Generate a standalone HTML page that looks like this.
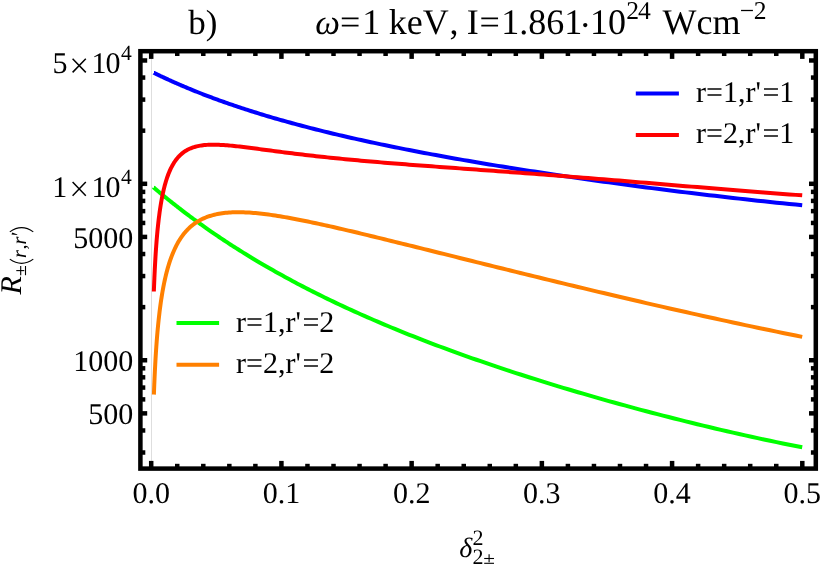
<!DOCTYPE html>
<html><head><meta charset="utf-8"><title>plot</title>
<style>
html,body{margin:0;padding:0;background:#fff;}
svg{display:block;will-change:transform;}
text{text-rendering:geometricPrecision;font-family:"Liberation Serif",serif;fill:#000;}
</style></head>
<body>
<svg width="822" height="566" viewBox="0 0 822 566">
<rect x="0" y="0" width="822" height="566" fill="#fff"/>
<line x1="151.5" y1="51.2" x2="151.5" y2="468.6" stroke="#dedede" stroke-width="1"/>
<g fill="none" stroke-width="4" stroke-linejoin="round" stroke-linecap="butt">
<path d="M154.00,72.88 L154.00,72.88 L154.00,72.88 L154.01,72.89 L154.01,72.89 L154.02,72.89 L154.04,72.90 L154.05,72.91 L154.08,72.92 L154.10,72.93 L154.14,72.95 L154.18,72.97 L154.22,72.99 L154.27,73.02 L154.33,73.04 L154.39,73.08 L154.47,73.11 L154.54,73.15 L154.63,73.19 L154.73,73.24 L154.83,73.29 L154.94,73.34 L155.07,73.40 L155.20,73.47 L155.34,73.53 L155.49,73.61 L155.64,73.68 L155.81,73.77 L155.99,73.85 L156.18,73.95 L156.39,74.04 L156.60,74.15 L156.82,74.25 L157.06,74.37 L157.30,74.49 L157.56,74.61 L157.83,74.74 L158.12,74.88 L158.41,75.02 L158.72,75.17 L159.04,75.32 L159.37,75.48 L159.72,75.64 L160.08,75.82 L160.46,75.99 L160.85,76.18 L161.25,76.37 L161.67,76.56 L162.10,76.77 L162.54,76.98 L163.00,77.19 L163.48,77.41 L163.97,77.64 L164.48,77.88 L165.00,78.12 L165.54,78.37 L166.09,78.63 L166.66,78.89 L167.24,79.16 L167.85,79.43 L168.47,79.71 L169.10,80.00 L169.75,80.30 L170.42,80.60 L171.11,80.91 L171.81,81.23 L172.53,81.55 L173.27,81.88 L174.03,82.21 L174.80,82.56 L175.60,82.91 L176.41,83.26 L177.24,83.63 L178.09,84.00 L178.95,84.37 L179.84,84.76 L180.75,85.15 L181.67,85.54 L182.61,85.95 L183.58,86.36 L184.56,86.77 L185.56,87.19 L186.59,87.62 L187.63,88.06 L188.69,88.50 L189.78,88.95 L190.88,89.40 L192.01,89.86 L193.15,90.33 L194.32,90.80 L195.51,91.28 L196.72,91.76 L197.95,92.25 L199.20,92.75 L200.48,93.25 L201.78,93.76 L203.09,94.27 L204.44,94.79 L205.80,95.31 L207.18,95.84 L208.59,96.37 L210.02,96.91 L211.48,97.46 L212.95,98.01 L214.45,98.56 L215.98,99.12 L217.52,99.69 L219.09,100.26 L220.69,100.83 L222.30,101.41 L223.94,102.00 L225.61,102.58 L227.30,103.18 L229.01,103.77 L230.75,104.37 L232.51,104.98 L234.30,105.59 L236.11,106.20 L237.95,106.82 L239.81,107.44 L241.70,108.06 L243.61,108.69 L245.55,109.32 L247.52,109.96 L249.50,110.59 L251.52,111.24 L253.56,111.88 L255.63,112.53 L257.72,113.18 L259.84,113.83 L261.99,114.49 L264.16,115.15 L266.36,115.81 L268.59,116.47 L270.84,117.14 L273.12,117.81 L275.43,118.48 L277.77,119.15 L280.13,119.83 L282.52,120.50 L284.94,121.18 L287.38,121.87 L289.86,122.55 L292.36,123.24 L294.89,123.92 L297.45,124.61 L300.03,125.30 L302.65,125.99 L305.29,126.69 L307.96,127.38 L310.66,128.08 L313.39,128.77 L316.15,129.47 L318.94,130.17 L321.76,130.87 L324.61,131.58 L327.48,132.28 L330.39,132.98 L333.32,133.69 L336.29,134.39 L339.29,135.10 L342.31,135.81 L345.37,136.51 L348.45,137.22 L351.57,137.93 L354.72,138.64 L357.90,139.35 L361.11,140.06 L364.35,140.77 L367.62,141.49 L370.92,142.20 L374.25,142.91 L377.62,143.63 L381.01,144.34 L384.44,145.05 L387.90,145.77 L391.39,146.48 L394.91,147.20 L398.47,147.91 L402.05,148.63 L405.67,149.34 L409.33,150.06 L413.01,150.77 L416.73,151.49 L420.47,152.21 L424.26,152.92 L428.07,153.64 L431.92,154.36 L435.80,155.07 L439.71,155.79 L443.66,156.51 L447.64,157.23 L451.65,157.94 L455.70,158.66 L459.78,159.38 L463.90,160.10 L468.05,160.82 L472.23,161.53 L476.45,162.25 L480.70,162.97 L484.98,163.69 L489.30,164.41 L493.66,165.13 L498.05,165.85 L502.47,166.57 L506.93,167.28 L511.42,168.00 L515.95,168.72 L520.52,169.44 L525.12,170.16 L529.75,170.88 L534.42,171.60 L539.13,172.32 L543.87,173.04 L548.64,173.76 L553.46,174.48 L558.31,175.20 L563.19,175.92 L568.11,176.64 L573.07,177.36 L578.06,178.08 L583.09,178.80 L588.16,179.52 L593.26,180.24 L598.40,180.96 L603.58,181.67 L608.79,182.39 L614.04,183.11 L619.33,183.83 L624.65,184.54 L630.02,185.26 L635.42,185.97 L640.85,186.69 L646.33,187.40 L651.84,188.12 L657.39,188.83 L662.98,189.54 L668.61,190.25 L674.27,190.95 L679.97,191.66 L685.71,192.37 L691.49,193.07 L697.31,193.77 L703.17,194.47 L709.06,195.17 L715.00,195.86 L720.97,196.56 L726.98,197.25 L733.03,197.93 L739.12,198.62 L745.25,199.30 L751.42,199.98 L757.63,200.65 L763.88,201.32 L770.17,201.99 L776.49,202.65 L782.86,203.31 L789.27,203.96 L795.71,204.61 L802.20,205.25" stroke="#0000ff"/>
<path d="M154.00,187.78 L154.00,187.78 L154.00,187.78 L154.01,187.78 L154.01,187.79 L154.02,187.80 L154.04,187.81 L154.05,187.82 L154.08,187.84 L154.10,187.87 L154.14,187.90 L154.18,187.93 L154.22,187.97 L154.27,188.01 L154.33,188.06 L154.39,188.11 L154.47,188.17 L154.54,188.24 L154.63,188.32 L154.73,188.40 L154.83,188.48 L154.94,188.58 L155.07,188.68 L155.20,188.79 L155.34,188.91 L155.49,189.04 L155.64,189.17 L155.81,189.31 L155.99,189.47 L156.18,189.63 L156.39,189.80 L156.60,189.97 L156.82,190.16 L157.06,190.36 L157.30,190.57 L157.56,190.78 L157.83,191.01 L158.12,191.25 L158.41,191.49 L158.72,191.75 L159.04,192.02 L159.37,192.30 L159.72,192.59 L160.08,192.89 L160.46,193.20 L160.85,193.52 L161.25,193.85 L161.67,194.20 L162.10,194.55 L162.54,194.92 L163.00,195.30 L163.48,195.69 L163.97,196.09 L164.48,196.50 L165.00,196.93 L165.54,197.37 L166.09,197.82 L166.66,198.28 L167.24,198.75 L167.85,199.24 L168.47,199.74 L169.10,200.25 L169.75,200.77 L170.42,201.31 L171.11,201.85 L171.81,202.41 L172.53,202.99 L173.27,203.57 L174.03,204.17 L174.80,204.78 L175.60,205.40 L176.41,206.04 L177.24,206.68 L178.09,207.34 L178.95,208.02 L179.84,208.70 L180.75,209.40 L181.67,210.11 L182.61,210.83 L183.58,211.57 L184.56,212.32 L185.56,213.08 L186.59,213.85 L187.63,214.63 L188.69,215.43 L189.78,216.24 L190.88,217.06 L192.01,217.90 L193.15,218.74 L194.32,219.60 L195.51,220.47 L196.72,221.35 L197.95,222.24 L199.20,223.15 L200.48,224.07 L201.78,224.99 L203.09,225.93 L204.44,226.88 L205.80,227.85 L207.18,228.82 L208.59,229.81 L210.02,230.80 L211.48,231.81 L212.95,232.83 L214.45,233.85 L215.98,234.89 L217.52,235.94 L219.09,237.00 L220.69,238.07 L222.30,239.15 L223.94,240.24 L225.61,241.34 L227.30,242.45 L229.01,243.57 L230.75,244.70 L232.51,245.84 L234.30,246.99 L236.11,248.14 L237.95,249.31 L239.81,250.48 L241.70,251.67 L243.61,252.86 L245.55,254.06 L247.52,255.27 L249.50,256.48 L251.52,257.71 L253.56,258.94 L255.63,260.18 L257.72,261.43 L259.84,262.68 L261.99,263.94 L264.16,265.21 L266.36,266.49 L268.59,267.77 L270.84,269.06 L273.12,270.36 L275.43,271.66 L277.77,272.97 L280.13,274.29 L282.52,275.61 L284.94,276.93 L287.38,278.27 L289.86,279.60 L292.36,280.95 L294.89,282.30 L297.45,283.65 L300.03,285.01 L302.65,286.37 L305.29,287.74 L307.96,289.11 L310.66,290.49 L313.39,291.87 L316.15,293.26 L318.94,294.65 L321.76,296.04 L324.61,297.44 L327.48,298.84 L330.39,300.25 L333.32,301.66 L336.29,303.07 L339.29,304.48 L342.31,305.90 L345.37,307.32 L348.45,308.75 L351.57,310.17 L354.72,311.60 L357.90,313.04 L361.11,314.47 L364.35,315.91 L367.62,317.35 L370.92,318.79 L374.25,320.23 L377.62,321.68 L381.01,323.13 L384.44,324.58 L387.90,326.03 L391.39,327.48 L394.91,328.94 L398.47,330.39 L402.05,331.85 L405.67,333.31 L409.33,334.77 L413.01,336.23 L416.73,337.69 L420.47,339.16 L424.26,340.62 L428.07,342.09 L431.92,343.56 L435.80,345.03 L439.71,346.50 L443.66,347.97 L447.64,349.44 L451.65,350.91 L455.70,352.38 L459.78,353.85 L463.90,355.33 L468.05,356.80 L472.23,358.28 L476.45,359.75 L480.70,361.23 L484.98,362.70 L489.30,364.18 L493.66,365.66 L498.05,367.13 L502.47,368.61 L506.93,370.09 L511.42,371.57 L515.95,373.04 L520.52,374.52 L525.12,376.00 L529.75,377.48 L534.42,378.95 L539.13,380.43 L543.87,381.91 L548.64,383.38 L553.46,384.86 L558.31,386.33 L563.19,387.81 L568.11,389.28 L573.07,390.76 L578.06,392.23 L583.09,393.70 L588.16,395.17 L593.26,396.64 L598.40,398.11 L603.58,399.58 L608.79,401.05 L614.04,402.51 L619.33,403.98 L624.65,405.44 L630.02,406.90 L635.42,408.35 L640.85,409.81 L646.33,411.26 L651.84,412.71 L657.39,414.16 L662.98,415.60 L668.61,417.04 L674.27,418.48 L679.97,419.92 L685.71,421.35 L691.49,422.77 L697.31,424.19 L703.17,425.61 L709.06,427.02 L715.00,428.43 L720.97,429.83 L726.98,431.22 L733.03,432.61 L739.12,433.99 L745.25,435.36 L751.42,436.73 L757.63,438.08 L763.88,439.43 L770.17,440.77 L776.49,442.10 L782.86,443.42 L789.27,444.73 L795.71,446.03 L802.20,447.32" stroke="#00ff00"/>
<path d="M153.85,291.49 L153.85,291.48 L153.85,291.43 L153.86,291.32 L153.86,291.14 L153.87,290.86 L153.89,290.48 L153.90,289.99 L153.93,289.38 L153.95,288.64 L153.99,287.76 L154.03,286.75 L154.07,285.60 L154.12,284.31 L154.18,282.87 L154.24,281.30 L154.32,279.60 L154.40,277.77 L154.48,275.81 L154.58,273.73 L154.68,271.55 L154.79,269.26 L154.92,266.89 L155.05,264.42 L155.19,261.89 L155.34,259.29 L155.49,256.63 L155.66,253.92 L155.84,251.17 L156.04,248.40 L156.24,245.60 L156.45,242.79 L156.67,239.96 L156.91,237.14 L157.15,234.32 L157.41,231.52 L157.68,228.73 L157.97,225.96 L158.26,223.22 L158.57,220.50 L158.89,217.82 L159.23,215.18 L159.57,212.58 L159.93,210.01 L160.31,207.50 L160.70,205.03 L161.10,202.61 L161.52,200.23 L161.95,197.91 L162.40,195.65 L162.86,193.43 L163.33,191.27 L163.82,189.17 L164.33,187.12 L164.85,185.12 L165.39,183.18 L165.94,181.30 L166.51,179.47 L167.10,177.69 L167.70,175.98 L168.32,174.31 L168.95,172.70 L169.61,171.15 L170.28,169.65 L170.96,168.20 L171.67,166.81 L172.39,165.46 L173.13,164.17 L173.88,162.93 L174.66,161.74 L175.45,160.59 L176.26,159.50 L177.09,158.45 L177.94,157.45 L178.81,156.50 L179.70,155.59 L180.60,154.72 L181.53,153.90 L182.47,153.12 L183.43,152.38 L184.42,151.68 L185.42,151.02 L186.44,150.40 L187.49,149.81 L188.55,149.27 L189.64,148.76 L190.74,148.28 L191.87,147.84 L193.01,147.43 L194.18,147.06 L195.37,146.71 L196.58,146.40 L197.81,146.11 L199.07,145.86 L200.34,145.63 L201.64,145.43 L202.96,145.25 L204.30,145.10 L205.66,144.98 L207.05,144.87 L208.45,144.79 L209.89,144.74 L211.34,144.70 L212.82,144.68 L214.32,144.69 L215.84,144.71 L217.39,144.75 L218.96,144.81 L220.55,144.88 L222.17,144.97 L223.81,145.07 L225.48,145.19 L227.17,145.33 L228.88,145.47 L230.62,145.63 L232.38,145.80 L234.17,145.98 L235.98,146.18 L237.82,146.38 L239.68,146.59 L241.57,146.81 L243.48,147.04 L245.42,147.28 L247.39,147.52 L249.38,147.78 L251.39,148.04 L253.43,148.30 L255.50,148.57 L257.60,148.85 L259.72,149.13 L261.86,149.41 L264.04,149.70 L266.24,149.99 L268.47,150.29 L270.72,150.59 L273.00,150.89 L275.31,151.19 L277.65,151.50 L280.01,151.80 L282.40,152.11 L284.82,152.42 L287.26,152.73 L289.74,153.04 L292.24,153.35 L294.77,153.67 L297.33,153.98 L299.92,154.29 L302.53,154.60 L305.17,154.91 L307.85,155.23 L310.55,155.54 L313.28,155.85 L316.04,156.15 L318.83,156.46 L321.65,156.77 L324.49,157.07 L327.37,157.38 L330.28,157.68 L333.22,157.99 L336.18,158.29 L339.18,158.59 L342.21,158.88 L345.26,159.18 L348.35,159.48 L351.47,159.77 L354.62,160.06 L357.79,160.36 L361.00,160.65 L364.24,160.94 L367.52,161.23 L370.82,161.51 L374.15,161.80 L377.52,162.09 L380.91,162.37 L384.34,162.65 L387.80,162.94 L391.30,163.22 L394.82,163.51 L398.37,163.79 L401.96,164.07 L405.58,164.35 L409.23,164.64 L412.92,164.92 L416.64,165.20 L420.39,165.49 L424.17,165.77 L427.98,166.06 L431.83,166.34 L435.71,166.63 L439.63,166.92 L443.58,167.21 L447.56,167.50 L451.57,167.79 L455.62,168.09 L459.70,168.38 L463.82,168.68 L467.97,168.98 L472.15,169.29 L476.37,169.59 L480.62,169.90 L484.91,170.22 L489.23,170.53 L493.59,170.85 L497.98,171.17 L502.40,171.50 L506.86,171.82 L511.36,172.16 L515.89,172.49 L520.45,172.83 L525.05,173.18 L529.69,173.53 L534.36,173.88 L539.07,174.24 L543.81,174.60 L548.59,174.96 L553.40,175.34 L558.25,175.71 L563.13,176.09 L568.06,176.48 L573.01,176.87 L578.01,177.26 L583.04,177.66 L588.11,178.07 L593.21,178.48 L598.35,178.89 L603.53,179.31 L608.75,179.73 L614.00,180.16 L619.29,180.60 L624.61,181.04 L629.98,181.48 L635.38,181.93 L640.82,182.38 L646.29,182.84 L651.81,183.30 L657.36,183.76 L662.95,184.23 L668.58,184.70 L674.24,185.18 L679.95,185.65 L685.69,186.14 L691.47,186.62 L697.29,187.11 L703.15,187.59 L709.04,188.08 L714.98,188.57 L720.95,189.07 L726.97,189.56 L733.02,190.05 L739.11,190.54 L745.24,191.04 L751.41,191.53 L757.62,192.02 L763.87,192.50 L770.16,192.98 L776.49,193.46 L782.85,193.94 L789.26,194.41 L795.71,194.88 L802.20,195.34" stroke="#ff0000"/>
<path d="M153.90,394.52 L153.90,394.51 L153.90,394.46 L153.91,394.35 L153.91,394.17 L153.92,393.89 L153.94,393.50 L153.95,393.01 L153.98,392.38 L154.00,391.63 L154.04,390.75 L154.08,389.72 L154.12,388.55 L154.17,387.23 L154.23,385.77 L154.29,384.17 L154.37,382.43 L154.44,380.56 L154.53,378.55 L154.63,376.42 L154.73,374.18 L154.84,371.83 L154.97,369.37 L155.10,366.82 L155.24,364.19 L155.39,361.49 L155.54,358.71 L155.71,355.88 L155.89,353.01 L156.08,350.08 L156.29,347.13 L156.50,344.15 L156.72,341.15 L156.96,338.14 L157.20,335.12 L157.46,332.10 L157.73,329.08 L158.02,326.08 L158.31,323.09 L158.62,320.11 L158.94,317.16 L159.28,314.24 L159.62,311.34 L159.98,308.47 L160.36,305.64 L160.75,302.84 L161.15,300.08 L161.57,297.36 L162.00,294.68 L162.44,292.04 L162.91,289.44 L163.38,286.89 L163.87,284.39 L164.38,281.93 L164.90,279.51 L165.44,277.14 L165.99,274.82 L166.56,272.55 L167.15,270.32 L167.75,268.15 L168.37,266.02 L169.00,263.93 L169.65,261.90 L170.32,259.91 L171.01,257.97 L171.71,256.08 L172.44,254.23 L173.17,252.43 L173.93,250.68 L174.71,248.97 L175.50,247.31 L176.31,245.69 L177.14,244.12 L177.99,242.59 L178.86,241.11 L179.74,239.67 L180.65,238.27 L181.57,236.92 L182.52,235.60 L183.48,234.33 L184.47,233.11 L185.47,231.92 L186.49,230.77 L187.54,229.66 L188.60,228.59 L189.68,227.57 L190.79,226.57 L191.91,225.62 L193.06,224.71 L194.23,223.83 L195.42,222.98 L196.63,222.18 L197.86,221.41 L199.11,220.67 L200.39,219.97 L201.68,219.30 L203.00,218.67 L204.34,218.07 L205.71,217.50 L207.09,216.96 L208.50,216.45 L209.93,215.98 L211.39,215.54 L212.86,215.12 L214.36,214.74 L215.89,214.38 L217.43,214.06 L219.00,213.76 L220.60,213.49 L222.21,213.25 L223.85,213.03 L225.52,212.84 L227.21,212.68 L228.92,212.54 L230.66,212.43 L232.43,212.34 L234.21,212.28 L236.03,212.24 L237.86,212.22 L239.73,212.23 L241.61,212.26 L243.53,212.32 L245.47,212.39 L247.43,212.49 L249.42,212.61 L251.44,212.75 L253.48,212.91 L255.55,213.09 L257.64,213.29 L259.76,213.51 L261.91,213.74 L264.08,214.00 L266.28,214.28 L268.51,214.57 L270.76,214.89 L273.04,215.22 L275.35,215.56 L277.69,215.93 L280.05,216.31 L282.44,216.71 L284.86,217.12 L287.30,217.55 L289.78,218.00 L292.28,218.46 L294.81,218.94 L297.37,219.43 L299.95,219.93 L302.57,220.45 L305.21,220.99 L307.89,221.54 L310.59,222.10 L313.32,222.68 L316.08,223.27 L318.87,223.87 L321.68,224.49 L324.53,225.11 L327.41,225.75 L330.32,226.41 L333.25,227.07 L336.22,227.75 L339.21,228.44 L342.24,229.14 L345.30,229.85 L348.38,230.58 L351.50,231.31 L354.65,232.06 L357.83,232.81 L361.04,233.58 L364.28,234.36 L367.55,235.15 L370.85,235.95 L374.19,236.76 L377.55,237.58 L380.95,238.41 L384.38,239.25 L387.84,240.09 L391.33,240.95 L394.85,241.82 L398.41,242.70 L401.99,243.59 L405.61,244.48 L409.26,245.39 L412.95,246.30 L416.67,247.23 L420.42,248.16 L424.20,249.10 L428.01,250.05 L431.86,251.01 L435.74,251.97 L439.66,252.95 L443.61,253.93 L447.59,254.92 L451.60,255.92 L455.65,256.93 L459.73,257.95 L463.85,258.97 L468.00,260.01 L472.18,261.05 L476.40,262.09 L480.65,263.15 L484.94,264.21 L489.26,265.28 L493.61,266.36 L498.00,267.45 L502.43,268.54 L506.89,269.64 L511.38,270.75 L515.91,271.87 L520.47,272.99 L525.07,274.12 L529.71,275.25 L534.38,276.40 L539.09,277.54 L543.83,278.70 L548.60,279.86 L553.42,281.03 L558.27,282.21 L563.15,283.39 L568.07,284.58 L573.03,285.77 L578.03,286.97 L583.06,288.18 L588.12,289.39 L593.23,290.61 L598.37,291.83 L603.55,293.06 L608.76,294.30 L614.01,295.54 L619.30,296.78 L624.63,298.03 L629.99,299.29 L635.39,300.54 L640.83,301.81 L646.30,303.08 L651.82,304.35 L657.37,305.62 L662.96,306.90 L668.59,308.19 L674.25,309.47 L679.96,310.76 L685.70,312.05 L691.48,313.35 L697.30,314.65 L703.15,315.95 L709.05,317.25 L714.98,318.56 L720.96,319.86 L726.97,321.17 L733.02,322.48 L739.11,323.79 L745.24,325.10 L751.41,326.41 L757.62,327.71 L763.87,329.02 L770.16,330.33 L776.49,331.64 L782.86,332.94 L789.26,334.25 L795.71,335.55 L802.20,336.85" stroke="#ff8000"/>
</g>
<g stroke="#000" stroke-width="4.5" stroke-linecap="butt">
<line x1="151.20" y1="468.6" x2="151.20" y2="460.90"/>
<line x1="151.20" y1="51.2" x2="151.20" y2="58.90"/>
<line x1="177.24" y1="468.6" x2="177.24" y2="463.80"/>
<line x1="177.24" y1="51.2" x2="177.24" y2="56.00"/>
<line x1="203.29" y1="468.6" x2="203.29" y2="463.80"/>
<line x1="203.29" y1="51.2" x2="203.29" y2="56.00"/>
<line x1="229.33" y1="468.6" x2="229.33" y2="463.80"/>
<line x1="229.33" y1="51.2" x2="229.33" y2="56.00"/>
<line x1="255.38" y1="468.6" x2="255.38" y2="463.80"/>
<line x1="255.38" y1="51.2" x2="255.38" y2="56.00"/>
<line x1="281.42" y1="468.6" x2="281.42" y2="460.90"/>
<line x1="281.42" y1="51.2" x2="281.42" y2="58.90"/>
<line x1="307.46" y1="468.6" x2="307.46" y2="463.80"/>
<line x1="307.46" y1="51.2" x2="307.46" y2="56.00"/>
<line x1="333.51" y1="468.6" x2="333.51" y2="463.80"/>
<line x1="333.51" y1="51.2" x2="333.51" y2="56.00"/>
<line x1="359.55" y1="468.6" x2="359.55" y2="463.80"/>
<line x1="359.55" y1="51.2" x2="359.55" y2="56.00"/>
<line x1="385.60" y1="468.6" x2="385.60" y2="463.80"/>
<line x1="385.60" y1="51.2" x2="385.60" y2="56.00"/>
<line x1="411.64" y1="468.6" x2="411.64" y2="460.90"/>
<line x1="411.64" y1="51.2" x2="411.64" y2="58.90"/>
<line x1="437.68" y1="468.6" x2="437.68" y2="463.80"/>
<line x1="437.68" y1="51.2" x2="437.68" y2="56.00"/>
<line x1="463.73" y1="468.6" x2="463.73" y2="463.80"/>
<line x1="463.73" y1="51.2" x2="463.73" y2="56.00"/>
<line x1="489.77" y1="468.6" x2="489.77" y2="463.80"/>
<line x1="489.77" y1="51.2" x2="489.77" y2="56.00"/>
<line x1="515.82" y1="468.6" x2="515.82" y2="463.80"/>
<line x1="515.82" y1="51.2" x2="515.82" y2="56.00"/>
<line x1="541.86" y1="468.6" x2="541.86" y2="460.90"/>
<line x1="541.86" y1="51.2" x2="541.86" y2="58.90"/>
<line x1="567.90" y1="468.6" x2="567.90" y2="463.80"/>
<line x1="567.90" y1="51.2" x2="567.90" y2="56.00"/>
<line x1="593.95" y1="468.6" x2="593.95" y2="463.80"/>
<line x1="593.95" y1="51.2" x2="593.95" y2="56.00"/>
<line x1="619.99" y1="468.6" x2="619.99" y2="463.80"/>
<line x1="619.99" y1="51.2" x2="619.99" y2="56.00"/>
<line x1="646.04" y1="468.6" x2="646.04" y2="463.80"/>
<line x1="646.04" y1="51.2" x2="646.04" y2="56.00"/>
<line x1="672.08" y1="468.6" x2="672.08" y2="460.90"/>
<line x1="672.08" y1="51.2" x2="672.08" y2="58.90"/>
<line x1="698.12" y1="468.6" x2="698.12" y2="463.80"/>
<line x1="698.12" y1="51.2" x2="698.12" y2="56.00"/>
<line x1="724.17" y1="468.6" x2="724.17" y2="463.80"/>
<line x1="724.17" y1="51.2" x2="724.17" y2="56.00"/>
<line x1="750.21" y1="468.6" x2="750.21" y2="463.80"/>
<line x1="750.21" y1="51.2" x2="750.21" y2="56.00"/>
<line x1="776.26" y1="468.6" x2="776.26" y2="463.80"/>
<line x1="776.26" y1="51.2" x2="776.26" y2="56.00"/>
<line x1="802.30" y1="468.6" x2="802.30" y2="460.90"/>
<line x1="802.30" y1="51.2" x2="802.30" y2="58.90"/>
<line x1="140.4" y1="452.51" x2="145.30" y2="452.51"/>
<line x1="815.8" y1="452.51" x2="810.90" y2="452.51"/>
<line x1="140.4" y1="430.47" x2="145.30" y2="430.47"/>
<line x1="815.8" y1="430.47" x2="810.90" y2="430.47"/>
<line x1="140.4" y1="413.37" x2="147.20" y2="413.37"/>
<line x1="815.8" y1="413.37" x2="809.00" y2="413.37"/>
<line x1="140.4" y1="399.40" x2="145.30" y2="399.40"/>
<line x1="815.8" y1="399.40" x2="810.90" y2="399.40"/>
<line x1="140.4" y1="387.58" x2="145.30" y2="387.58"/>
<line x1="815.8" y1="387.58" x2="810.90" y2="387.58"/>
<line x1="140.4" y1="377.35" x2="145.30" y2="377.35"/>
<line x1="815.8" y1="377.35" x2="810.90" y2="377.35"/>
<line x1="140.4" y1="368.32" x2="145.30" y2="368.32"/>
<line x1="815.8" y1="368.32" x2="810.90" y2="368.32"/>
<line x1="140.4" y1="360.25" x2="147.20" y2="360.25"/>
<line x1="815.8" y1="360.25" x2="809.00" y2="360.25"/>
<line x1="140.4" y1="307.13" x2="145.30" y2="307.13"/>
<line x1="815.8" y1="307.13" x2="810.90" y2="307.13"/>
<line x1="140.4" y1="276.06" x2="145.30" y2="276.06"/>
<line x1="815.8" y1="276.06" x2="810.90" y2="276.06"/>
<line x1="140.4" y1="254.02" x2="145.30" y2="254.02"/>
<line x1="815.8" y1="254.02" x2="810.90" y2="254.02"/>
<line x1="140.4" y1="236.92" x2="147.20" y2="236.92"/>
<line x1="815.8" y1="236.92" x2="809.00" y2="236.92"/>
<line x1="140.4" y1="222.95" x2="145.30" y2="222.95"/>
<line x1="815.8" y1="222.95" x2="810.90" y2="222.95"/>
<line x1="140.4" y1="211.13" x2="145.30" y2="211.13"/>
<line x1="815.8" y1="211.13" x2="810.90" y2="211.13"/>
<line x1="140.4" y1="200.90" x2="145.30" y2="200.90"/>
<line x1="815.8" y1="200.90" x2="810.90" y2="200.90"/>
<line x1="140.4" y1="191.87" x2="145.30" y2="191.87"/>
<line x1="815.8" y1="191.87" x2="810.90" y2="191.87"/>
<line x1="140.4" y1="183.80" x2="147.20" y2="183.80"/>
<line x1="815.8" y1="183.80" x2="809.00" y2="183.80"/>
<line x1="140.4" y1="130.68" x2="145.30" y2="130.68"/>
<line x1="815.8" y1="130.68" x2="810.90" y2="130.68"/>
<line x1="140.4" y1="99.61" x2="145.30" y2="99.61"/>
<line x1="815.8" y1="99.61" x2="810.90" y2="99.61"/>
<line x1="140.4" y1="77.57" x2="145.30" y2="77.57"/>
<line x1="815.8" y1="77.57" x2="810.90" y2="77.57"/>
<line x1="140.4" y1="60.47" x2="147.20" y2="60.47"/>
<line x1="815.8" y1="60.47" x2="809.00" y2="60.47"/>
</g>
<rect x="140.4" y="51.2" width="675.40" height="417.40" fill="none" stroke="#000" stroke-width="4.5"/>
<g font-size="30">
<text x="52.5" y="73.27">5</text><path d="M72.6,58.77 L85.8,72.37 M85.8,58.77 L72.6,72.37" stroke="#000" stroke-width="1.5" fill="none"/><text x="91.6" y="73.27" textLength="29" lengthAdjust="spacing">10</text><text x="121.0" y="60.17" font-size="21.5">4</text>
<text x="52.2" y="196.60">1</text><path d="M72.6,182.10 L85.8,195.70 M85.8,182.10 L72.6,195.70" stroke="#000" stroke-width="1.5" fill="none"/><text x="91.6" y="196.60" textLength="29" lengthAdjust="spacing">10</text><text x="121.0" y="183.50" font-size="21.5">4</text>
<text x="133.2" y="247.52" text-anchor="end">5000</text>
<text x="133.2" y="370.85" text-anchor="end">1000</text>
<text x="133.2" y="423.97" text-anchor="end">500</text>
<text x="151.20" y="502.8" text-anchor="middle">0.0</text>
<text x="281.42" y="502.8" text-anchor="middle">0.1</text>
<text x="411.64" y="502.8" text-anchor="middle">0.2</text>
<text x="541.86" y="502.8" text-anchor="middle">0.3</text>
<text x="672.08" y="502.8" text-anchor="middle">0.4</text>
<text x="802.30" y="502.8" text-anchor="middle">0.5</text>
<line x1="635.8" y1="93.6" x2="678.9" y2="93.6" stroke="#0000ff" stroke-width="4"/><text x="696.0" y="101.6">r=1,r'<tspan dx="1.6">=1</tspan></text>
<line x1="635.8" y1="135.0" x2="678.9" y2="135.0" stroke="#ff0000" stroke-width="4"/><text x="696.0" y="143.0">r=2,r'<tspan dx="1.6">=1</tspan></text>
<line x1="176.5" y1="323.0" x2="219.1" y2="323.0" stroke="#00ff00" stroke-width="4"/><text x="236.0" y="331.5">r=1,r'<tspan dx="1.6">=2</tspan></text>
<line x1="176.5" y1="364.8" x2="219.1" y2="364.8" stroke="#ff8000" stroke-width="4"/><text x="236.0" y="372.9">r=2,r'<tspan dx="1.6">=2</tspan></text>
</g>
<!-- title -->
<g font-size="36" style="font-kerning:none">
<text x="188.3" y="34.0" font-size="35">b</text>
<text x="205.8" y="34.0" font-size="35">)</text>
<text x="315.2" y="34.0" font-size="35" font-style="italic">ω</text>
<text x="340.0" y="34.0">=</text>
<text x="362.2" y="34.0">1</text>
<text x="388.8" y="34.0">keV</text>
<text x="449.4" y="34.0">,</text>
<text x="466.8" y="34.0">I</text>
<text x="479.4" y="34.0">=</text>
<text x="501.2" y="34.0">1.861</text>
<text x="579.3" y="36.7">·</text>
<text x="590.0" y="34.0">10</text>
<text x="626.2" y="19.0" font-size="25.6" letter-spacing="-0.9">24</text>
<text x="662.6" y="34.0">Wcm</text>
<text x="739.8" y="19.0" font-size="25.6" letter-spacing="-0.5">−2</text>
</g>
<!-- x label -->
<g>
<text x="459.2" y="556.9" font-size="28" font-style="italic">δ</text>
<text x="472.4" y="544.7" font-size="22">2</text>
<text x="472.4" y="563.8" font-size="22">2</text>
<g stroke="#000" stroke-width="1.1" fill="none">
<line x1="484.2" y1="558.5" x2="494.0" y2="558.5"/>
<line x1="489.1" y1="554.2" x2="489.1" y2="562.2"/>
<line x1="484.2" y1="563.3" x2="494.0" y2="563.3"/>
</g>
</g>
<!-- y label -->
<g transform="translate(21.2,294.6) rotate(-90)">
<text x="0" y="0" font-size="30" font-style="italic">R</text>
<g transform="translate(19.4,4.7)">
<g stroke="#000" stroke-width="1.1" fill="none">
<line x1="0" y1="-5.2" x2="9.2" y2="-5.2"/>
<line x1="4.6" y1="-9.6" x2="4.6" y2="-1.6"/>
<line x1="0" y1="-0.4" x2="9.2" y2="-0.4"/>
<path d="M16.1,-16.1 Q7.6,-4.3 16.1,7.4"/>
<path d="M43.3,-16.1 Q51.8,-4.3 43.3,7.4"/>
</g>
<text x="17.3" y="0" font-size="20.4" font-style="italic">r</text>
<text x="25.7" y="0" font-size="20.4" font-style="italic">,</text>
<text x="30.7" y="0" font-size="20.4" font-style="italic">r</text>
<polygon points="40.8,-14.4 42.6,-13.6 40.8,-8.5 40.1,-8.8" fill="#000"/>
</g>
</g>
</svg>
</body></html>
